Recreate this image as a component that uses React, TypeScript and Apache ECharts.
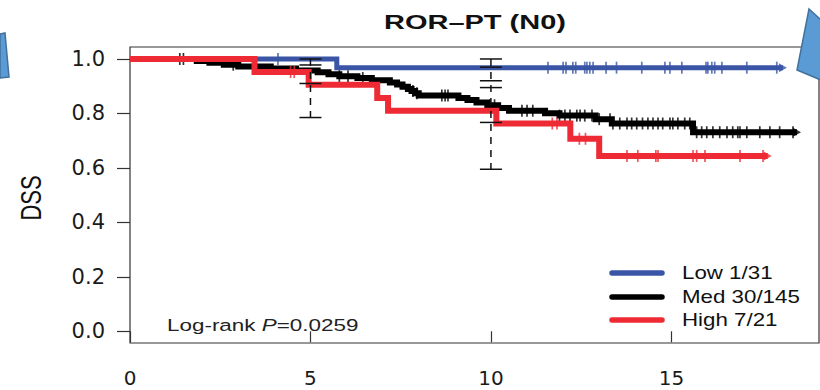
import React, { useEffect, useRef } from "react";
import * as echarts from "echarts";

// ---- data ----
const groupNames = ["Low 1/31", "Med 30/145", "High 7/21"];
const groupColors = ["#3a55a5", "#000000", "#ee2b34"];

const lowTimes = [0, 5.73, 18.09];
const lowSurv = [1.0, 0.968, 0.968];
const lowCensor = [4.1, 11.58, 12.0, 12.08, 12.27, 12.35, 12.6, 12.66, 12.74, 12.83, 13.19, 13.48, 14.18, 14.82, 14.96, 15.29, 15.96, 16.01, 16.12, 16.2, 16.4, 17.09, 17.92];

const medTimes = [0, 1.85, 2.2, 2.6, 3.0, 3.9, 4.6, 5.2, 5.5, 5.8, 6.3, 6.7, 7.2, 7.4, 7.55, 7.7, 7.8, 7.9, 8.0, 9.1, 9.35, 9.6, 9.9, 10.2, 10.5, 11.5, 11.9, 12.9, 13.35, 15.6, 18.48];
const medSurv = [1.0, 0.993, 0.986, 0.979, 0.972, 0.965, 0.958, 0.951, 0.944, 0.937, 0.93, 0.922, 0.914, 0.906, 0.898, 0.89, 0.882, 0.874, 0.866, 0.857, 0.849, 0.84, 0.83, 0.82, 0.81, 0.801, 0.792, 0.779, 0.763, 0.731, 0.731];
const medCensor = [1.38, 1.48, 2.86, 5.8, 6.04, 6.45, 7.84, 7.95, 8.64, 8.73, 8.81, 9.97, 10.1, 10.86, 11.0, 11.16, 11.9, 12.05, 12.19, 12.38, 12.47, 12.6, 12.8, 13.0, 13.3, 13.38, 13.57, 13.77, 13.9, 14.04, 14.2, 14.35, 14.49, 14.63, 14.76, 14.96, 15.04, 15.18, 15.37, 15.51, 15.7, 15.84, 15.98, 16.15, 16.34, 16.54, 16.7, 16.84, 16.9, 17.09, 17.45, 17.73, 18.0, 18.37];

const highTimes = [0, 3.45, 4.95, 6.85, 7.15, 10.15, 12.2, 13.0, 17.67];
const highSurv = [1.0, 0.952, 0.905, 0.857, 0.81, 0.763, 0.707, 0.644, 0.644];
const highCensor = [4.45, 4.55, 11.7, 11.83, 12.45, 12.62, 13.77, 14.07, 14.57, 14.63, 15.6, 15.7, 15.93, 16.9, 17.54];

const ciTimes = [5, 10];
const ciCaps = [
  [1.0, 0.978, 0.91, 0.785],
  [1.0, 0.97, 0.92, 0.895, 0.767, 0.595],
];

const xTicks = [0, 5, 10, 15];
const yTicks = [0, 0.2, 0.4, 0.6, 0.8, 1.0];

const titleText = "ROR\u2013PT (N0)";
const yName = "DSS";
const pText = "0.0259";

// ---- helpers ----
function survAt(times: number[], surv: number[], t: number) {
  let v = surv[0];
  for (let i = 0; i < times.length; i++) if (times[i] <= t) v = surv[i];
  return v;
}

const groups = [
  { times: lowTimes, surv: lowSurv, censor: lowCensor, width: 5, z: 3 },
  { times: medTimes, surv: medSurv, censor: medCensor, width: 6, z: 2 },
  { times: highTimes, surv: highSurv, censor: highCensor, width: 6, z: 4 },
];

export default function App() {
  const ref = useRef<HTMLDivElement>(null);
  useEffect(() => {
    if (!ref.current) return;
    const chart = echarts.init(ref.current, undefined, { renderer: "svg" });

    const series: any[] = [];
    groups.forEach((g, gi) => {
      series.push({
        type: "line",
        name: groupNames[gi],
        step: "end",
        symbol: "none",
        z: g.z,
        data: g.times.map((t, i) => [t, g.surv[i]]),
        lineStyle: { color: groupColors[gi], width: g.width, join: "miter", cap: "butt" },
      });
      series.push({
        type: "scatter",
        z: g.z,
        symbol: "rect",
        symbolSize: [1.7, 12],
        itemStyle: { color: groupColors[gi] },
        data: g.censor.map((t) => [t, survAt(g.times, g.surv, t)]),
      });
      const last = g.times.length - 1;
      series.push({
        type: "scatter",
        z: g.z,
        symbol: "triangle",
        symbolRotate: -90,
        symbolSize: [9, 8],
        itemStyle: { color: groupColors[gi] },
        data: [[g.times[last], g.surv[last]]],
      });
    });

    series.push({
      type: "custom",
      z: 6,
      data: ciTimes.map((t, i) => [t, Math.max(...ciCaps[i]), Math.min(...ciCaps[i])]),
      renderItem: (params: any, api: any) => {
        const t = api.value(0);
        const top = api.coord([t, api.value(1)]);
        const bot = api.coord([t, api.value(2)]);
        const caps = ciCaps[params.dataIndex];
        const children: any[] = [
          {
            type: "line",
            shape: { x1: top[0], y1: top[1], x2: bot[0], y2: bot[1] },
            style: { stroke: "#111", lineWidth: 1.5, lineDash: [7, 6] },
          },
        ];
        caps.forEach((c) => {
          const p = api.coord([t, c]);
          children.push({
            type: "line",
            shape: { x1: p[0] - 11, y1: p[1], x2: p[0] + 11, y2: p[1] },
            style: { stroke: "#111", lineWidth: 1.5 },
          });
        });
        return { type: "group", children };
      },
    });

    const legendX1 = 612;
    const legendX2 = 662;
    const legendY = [273, 297, 320];
    const graphic: any[] = [
      {
        type: "text",
        x: 475,
        y: 22,
        scaleX: 1.38,
        style: {
          text: titleText,
          fontFamily: "Liberation Sans",
          fontWeight: "bold",
          fontSize: 21,
          fill: "#111",
          align: "center",
          verticalAlign: "middle",
        },
      },
      {
        type: "text",
        x: 31,
        y: 198,
        rotation: Math.PI / 2,
        scaleY: 1.37,
        style: {
          text: yName,
          fontFamily: "Liberation Sans",
          fontSize: 22,
          fill: "#111",
          align: "center",
          verticalAlign: "middle",
        },
      },
      {
        type: "text",
        x: 167,
        y: 325,
        scaleX: 1.32,
        style: {
          text: "Log-rank {i|P}=" + pText,
          fontFamily: "Liberation Sans",
          fontSize: 17,
          fill: "#222",
          align: "left",
          verticalAlign: "middle",
          rich: { i: { fontStyle: "italic", fontFamily: "Liberation Sans", fontSize: 17, fill: "#222" } },
        },
      },
      {
        type: "polygon",
        shape: { points: [[0, 34], [5, 33], [9, 77], [0, 78]] },
        style: { fill: "#5b9bd5", stroke: "#41719c", lineWidth: 1.5 },
        z: 100,
      },
      {
        type: "polygon",
        shape: { points: [[809, 9], [821, 20], [821, 80], [797, 70]] },
        style: { fill: "#5b9bd5", stroke: "#41719c", lineWidth: 1.5 },
        z: 100,
      },
    ];
    groupNames.forEach((name, i) => {
      graphic.push({
        type: "line",
        shape: { x1: legendX1, y1: legendY[i], x2: legendX2, y2: legendY[i] },
        style: { stroke: groupColors[i], lineWidth: 5.5, lineCap: "round" },
      });
      graphic.push({
        type: "text",
        x: 682,
        y: legendY[i],
        scaleX: 1.24,
        style: {
          text: name,
          fontFamily: "Liberation Sans",
          fontSize: 18,
          fill: "#111",
          align: "left",
          verticalAlign: "middle",
        },
      });
    });

    chart.setOption({
      animation: false,
      backgroundColor: "#ffffff",
      grid: {
        left: 130,
        right: 1,
        top: 47,
        bottom: 47,
        show: true,
        borderColor: "#333",
        borderWidth: 1.2,
        backgroundColor: "transparent",
      },
      xAxis: {
        type: "value",
        min: 0,
        max: 19.09,
        splitLine: { show: false },
        axisLine: { show: false },
        axisTick: { show: true, length: 11, customValues: xTicks, lineStyle: { color: "#333", width: 1.2 } },
        axisLabel: {
          customValues: xTicks,
          margin: 25,
          fontFamily: "DejaVu Sans",
          fontSize: 20,
          color: "#1a1a1a",
          formatter: (v: number) => String(v),
        },
      },
      yAxis: {
        type: "value",
        min: -0.043,
        max: 1.044,
        splitLine: { show: false },
        axisLine: { show: false },
        axisTick: { show: true, length: 13, customValues: yTicks, lineStyle: { color: "#333", width: 1.2 } },
        axisLabel: {
          customValues: yTicks,
          margin: 25,
          fontFamily: "DejaVu Sans",
          fontSize: 21,
          color: "#1a1a1a",
          formatter: (v: number) => v.toFixed(1),
        },
      },
      graphic,
      series,
    });
    return () => chart.dispose();
  }, []);
  return (
    <div
      ref={ref}
      style={{ position: "fixed", left: 0, top: 0, width: 820, height: 390, background: "#fff" }}
    />
  );
}
